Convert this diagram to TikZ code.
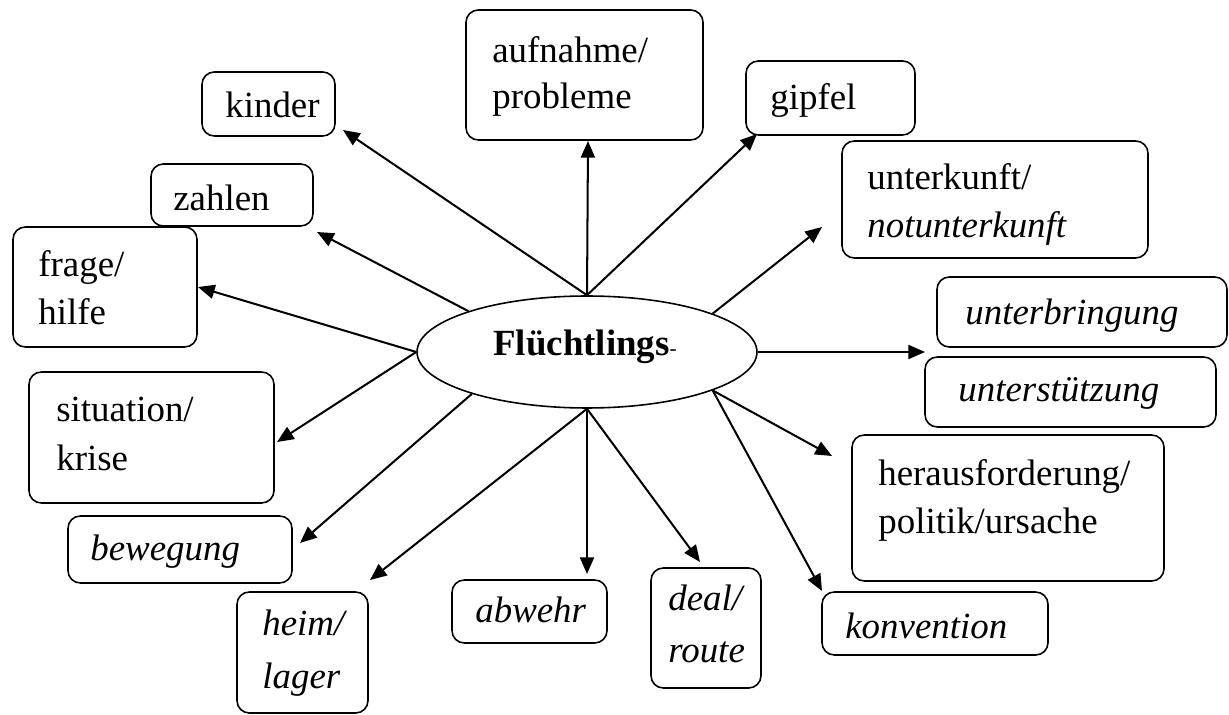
\documentclass[tikz,border=0pt]{standalone}
\usepackage{fontspec}
\setmainfont{Liberation Serif}
\usetikzlibrary{shapes.geometric,arrows.meta,fit}

\begin{document}
\begin{tikzpicture}[x=0.02cm,y=-0.02cm,
  box/.style={draw,rounded corners=7pt,line width=0.9pt,inner sep=0pt},
  lbl/.style={anchor=base west,inner sep=0pt,font=\fontsize{21}{27}\selectfont},
  ilbl/.style={lbl,font=\fontsize{21}{27}\selectfont\itshape},
  arr/.style={line width=1.15pt,-{Triangle[length=9.5pt,width=8pt]}}]
\useasboundingbox (0,0) rectangle (1229,715);

% central ellipse
\node[draw,ellipse,line width=0.9pt,minimum width=6.8cm,minimum height=2.24cm,inner sep=0pt] (c) at (587,352) {};
\node[lbl] (c-t) at (493,356) {\bfseries Flüchtlings{\mdseries\fontsize{12}{14}\selectfont -}};

% boxes
\node[box,fit={(202,72) (335,136)}] (kinder) {};
\node[lbl] (kinder-t) at (225,118) {kinder};

\node[box,fit={(466,10) (703,140)}] (aufnahme) {};
\node[lbl] (aufnahme-t1) at (492,63) {aufnahme/};
\node[lbl] (aufnahme-t2) at (492,109) {probleme};

\node[box,fit={(746,61) (915,135)}] (gipfel) {};
\node[lbl] (gipfel-t) at (770,110) {gipfel};

\node[box,fit={(842,141) (1148,258)}] (unterkunft) {};
\node[lbl] (unterkunft-t1) at (867,190) {unterkunft/};
\node[ilbl] (unterkunft-t2) at (867,238) {notunterkunft};

\node[box,fit={(937,277) (1227,347)}] (unterbringung) {};
\node[ilbl] (unterbringung-t) at (965,325) {unterbringung};

\node[box,fit={(925,357) (1216,427)}] (unterstuetzung) {};
\node[ilbl] (unterstuetzung-t) at (958,402) {unterstützung};

\node[box,fit={(852,435) (1164,581)}] (heraus) {};
\node[lbl] (heraus-t1) at (878,485) {herausforderung/};
\node[lbl] (heraus-t2) at (878,533) {politik/ursache};

\node[box,fit={(822,592) (1048,655)}] (konvention) {};
\node[ilbl] (konvention-t) at (845,638) {konvention};

\node[box,fit={(651,568) (761,688)}] (deal) {};
\node[ilbl] (deal-t1) at (668,610) {deal/};
\node[ilbl] (deal-t2) at (668,662) {route};

\node[box,fit={(452,580) (607,643)}] (abwehr) {};
\node[ilbl] (abwehr-t) at (475,622) {abwehr};

\node[box,fit={(237,592) (368,713)}] (heim) {};
\node[ilbl] (heim-t1) at (262,635) {heim/};
\node[ilbl] (heim-t2) at (262,688) {lager};

\node[box,fit={(68,516) (292,583)}] (bewegung) {};
\node[ilbl] (bewegung-t) at (90,560) {bewegung};

\node[box,fit={(29,372) (274,503)}] (situation) {};
\node[lbl] (situation-t1) at (56,422) {situation/};
\node[lbl] (situation-t2) at (56,470) {krise};

\node[box,fit={(13,227) (197,347)}] (frage) {};
\node[lbl] (frage-t1) at (38,277) {frage/};
\node[lbl] (frage-t2) at (38,325) {hilfe};

\node[box,fit={(151,164) (313,226)}] (zahlen) {};
\node[lbl] (zahlen-t) at (173,211) {zahlen};

% arrow tips
\coordinate (kinder-a) at (343,130);
\coordinate (aufnahme-a) at (588,141);
\coordinate (gipfel-a) at (757,134);
\coordinate (unterkunft-a) at (822,227);
\coordinate (unterbringung-a) at (925,352);
\coordinate (heraus-a) at (832,456);
\coordinate (konvention-a) at (822,591);
\coordinate (deal-a) at (700,562);
\coordinate (abwehr-a) at (587,574);
\coordinate (heim-a) at (370,580);
\coordinate (bewegung-a) at (300,543);
\coordinate (situation-a) at (277,442);
\coordinate (frage-a) at (198,287);
\coordinate (zahlen-a) at (317,232);

% connectors
\draw[arr] (c.north) -- (kinder-a);
\draw[arr] (c.north) -- (aufnahme-a);
\draw[arr] (c.north) -- (gipfel-a);
\draw[arr] (c.17.9) -- (unterkunft-a);
\draw[arr] (c.east) -- (unterbringung-a);
\draw[arr] (c.-17.4) -- (heraus-a);
\draw[arr] (c.-17.4) -- (konvention-a);
\draw[arr] (c.south) -- (deal-a);
\draw[arr] (c.south) -- (abwehr-a);
\draw[arr] (c.south) -- (heim-a);
\draw[arr] (c.200.3) -- (bewegung-a);
\draw[arr] (c.west) -- (situation-a);
\draw[arr] (c.west) -- (frage-a);
\draw[arr] (c.161.8) -- (zahlen-a);
\end{tikzpicture}
\end{document}
